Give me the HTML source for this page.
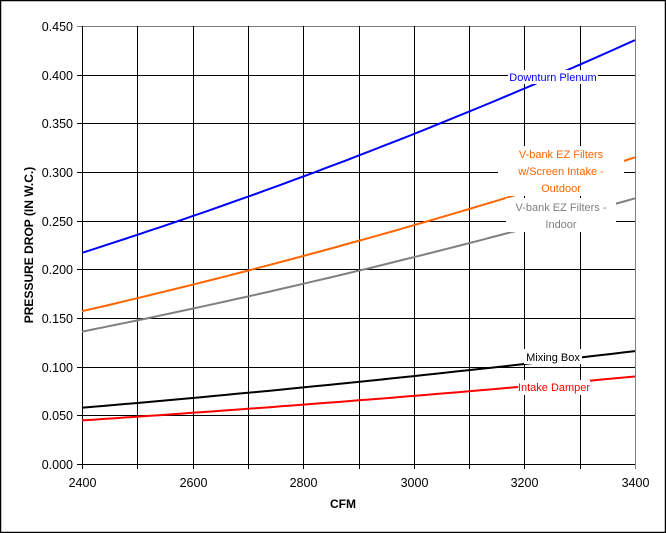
<!DOCTYPE html>
<html><head><style>
body{margin:0;background:#fff}
svg{display:block;font-family:"Liberation Sans",Arial,sans-serif}
</style></head><body>
<svg id="s" width="666" height="533" viewBox="0 0 666 533">
<rect x="0.5" y="0.5" width="665" height="532" fill="#fff" stroke="#000" stroke-width="1.5"/>
<g id="grid" stroke="#000" stroke-width="1"></g>
<g id="lines" fill="none" stroke-width="2"></g>
<g font-size="12.5" id="ticks"></g>
<g font-size="11">
<rect x="508" y="70" width="90" height="14" fill="#fff"/>
<text x="553" y="81" fill="#0000ff" text-anchor="middle">Downturn Plenum</text>
<rect x="498" y="146" width="126" height="50" fill="#fff"/>
<text x="561" y="158" fill="#ff6600" text-anchor="middle">V-bank EZ Filters</text>
<text x="561" y="175" fill="#ff6600" text-anchor="middle">w/Screen Intake -</text>
<text x="561" y="192" fill="#ff6600" text-anchor="middle">Outdoor</text>
<rect x="506" y="198" width="110" height="34" fill="#fff"/>
<text x="561" y="211" fill="#808080" text-anchor="middle">V-bank EZ Filters -</text>
<text x="561" y="228" fill="#808080" text-anchor="middle">Indoor</text>
<rect x="524" y="349" width="58" height="15" fill="#fff"/>
<text x="553" y="361" fill="#000" text-anchor="middle">Mixing Box</text>
<rect x="518" y="380" width="72" height="15" fill="#fff"/>
<text x="554" y="391" fill="#ff0000" text-anchor="middle">Intake Damper</text>
</g>
<text x="343" y="508" font-size="12" font-weight="bold" text-anchor="middle">CFM</text>
<text transform="translate(33,245) rotate(-90)" font-size="12" font-weight="bold" text-anchor="middle">PRESSURE DROP (IN W.C.)</text>
</svg>
<script>
var L=82,R=635,T=26,B=464,ns="http://www.w3.org/2000/svg";
function X(c){return L+(c-2400)/1000*(R-L)}
function Y(p){return B-p/0.45*(B-T)}
function el(p,t,a,txt){var e=document.createElementNS(ns,t);for(var k in a)e.setAttribute(k,a[k]);if(txt)e.textContent=txt;document.getElementById(p).appendChild(e);return e}
for(var i=0;i<=9;i++){var y=Math.round(Y(i*0.05))+0.5;el('grid','line',{x1:L-5,x2:R,y1:y,y2:y,stroke:i==9?'#808080':'#000'});
el('ticks','text',{x:L-9,y:y+4.5,'text-anchor':'end'},(i*0.05).toFixed(3));}
for(var i=0;i<=10;i++){var x=Math.round(X(2400+i*100))+0.5;el('grid','line',{x1:x,x2:x,y1:T,y2:B+5,stroke:i==10?'#808080':'#000'});
if(i%2==0)el('ticks','text',{x:x,y:B+23,'text-anchor':'middle'},String(2400+i*100));}
var S=[[0.217,'#0000ff'],[0.157,'#ff6600'],[0.136,'#808080'],[0.0578,'#000'],[0.0448,'#ff0000']];
S.forEach(function(s){var k=s[0]/(2400*2400),d='';for(var c=2400;c<=3400;c+=20){d+=(c==2400?'M':'L')+X(c).toFixed(1)+','+Y(k*c*c).toFixed(1)}
var g=document.getElementById('lines');var p=document.createElementNS(ns,'path');p.setAttribute('d',d);p.setAttribute('stroke',s[1]);g.appendChild(p);});
</script>
</body></html>
